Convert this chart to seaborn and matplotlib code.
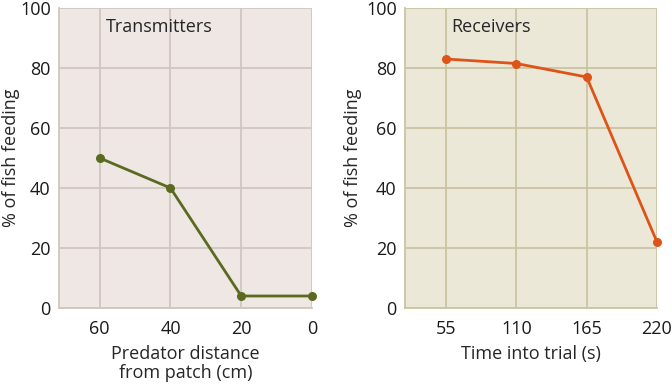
import numpy as np
import pandas as pd
from matplotlib import pyplot as plt
import seaborn as sns

# values
distance = [60, 40, 20, 0]
transmitters = [50, 40, 4, 4]
trial_time = [55, 110, 165, 220]
receivers = [83, 81.5, 77, 22]

sns.set_style('white')
plt.rcParams['font.family'] = ['Open Sans', 'DejaVu Sans']
fs = 13

fig = plt.figure(figsize=(6.72, 3.84), dpi=100)
ax1 = fig.add_axes([59/672, 76/384, 253/672, 300/384])
ax2 = fig.add_axes([405/672, 76/384, 252/672, 300/384])

panels = [
    (ax1, pd.DataFrame({'x': distance, 'y': transmitters}), '#5b6a1f', '#eee7e4', '#cfc5c1',
     'Transmitters', 'Predator distance\nfrom patch (cm)', (71.5, 0), distance, -0.155),
    (ax2, pd.DataFrame({'x': trial_time, 'y': receivers}), '#de5418', '#ece8d8', '#cbc4a2',
     'Receivers', 'Time into trial (s)', (23, 220), trial_time, -0.172),
]

for ax, df, col, bg, grid, label, xlabel, xlim, ticks, ylx in panels:
    ax.set_facecolor(bg)
    sns.lineplot(data=df, x='x', y='y', ax=ax, color=col, lw=2, marker='o',
                 markersize=6.5, markeredgewidth=0, clip_on=False, zorder=3)
    ax.set_xlim(*xlim)
    ax.set_ylim(0, 100)
    ax.set_xticks(ticks)
    ax.set_yticks([0, 20, 40, 60, 80, 100])
    ax.grid(True, color=grid, lw=1.3)
    for s in ['top', 'right']:
        ax.spines[s].set_visible(False)
    for s in ['left', 'bottom']:
        ax.spines[s].set_color(grid)
        ax.spines[s].set_linewidth(1.3)
    ax.tick_params(labelsize=fs, colors='#1a1a1a', length=0)
    ax.tick_params(axis='y', pad=6)
    ax.tick_params(axis='x', pad=9)
    ax.set_xlabel(xlabel, fontsize=fs, linespacing=1.1)
    ax.xaxis.set_label_coords(0.5, -0.122)
    ax.set_ylabel('% of fish feeding', fontsize=fs)
    ax.yaxis.set_label_coords(ylx, 0.5)
    ax.text(0.185, 0.935, label, transform=ax.transAxes, fontsize=fs, va='center')

plt.savefig('out.png', dpi=100)
